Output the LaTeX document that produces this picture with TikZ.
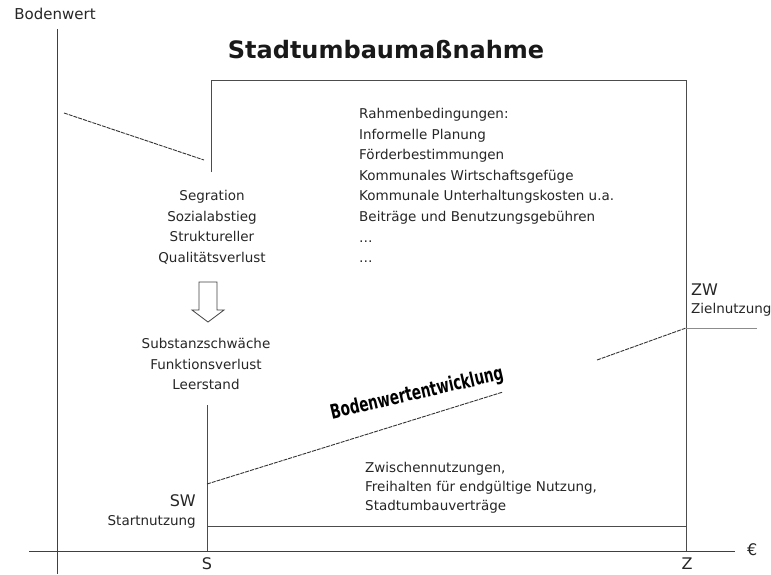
\documentclass[tikz,border=0pt]{standalone}
\usepackage{fontspec}
\setmainfont{DejaVu Sans}
\usetikzlibrary{calc}

\tikzset{
	axisline/.style={line width=0.9pt, black!75},
	frameline/.style={line width=0.8pt, black!70},
	valueline/.style={line width=0.9pt, black!80, dash pattern=on 4pt off 1pt},
	txt/.style={inner sep=0pt, text=black!85, font=\fontsize{13.5}{20.6}\selectfont},
	bigtxt/.style={inner sep=0pt, text=black!85, font=\fontsize{16}{16}\selectfont},
}

\begin{document}
\begin{tikzpicture}[x=1pt,y=-1pt]
		%%%%% START %%%%%
		\useasboundingbox (0,0) rectangle (771,574);
		
		\coordinate (ytop) at (57,29);
		\coordinate (ybot) at (57,574);
		\coordinate (xleft) at (29,551);
		\coordinate (xright) at (735,551);
		\coordinate (s) at (207,551);
		\coordinate (z) at (686,551);
		
		\draw[axisline] (ytop) -- (ybot);
		\draw[axisline] (xleft) -- (xright);
		\node[bigtxt, anchor=west] (euro) at (747,550) {€};
		\node[bigtxt, font=\fontsize{15}{15}\selectfont] (ylabel) at (55,14) {Bodenwert};
		\node[bigtxt] (slabel) at (207,564) {S};
		\node[bigtxt] (zlabel) at (687,564) {Z};
		
		% Rahmen der Massnahme
		\node[inner sep=0pt, text=black!90, font=\fontsize{24}{24}\bfseries] (title) at (386,50) {Stadtumbaumaßnahme};
		\coordinate (boxtl) at (211,80);
		\coordinate (boxleft) at (211,172);
		\coordinate (boxtr) at (686,80);
		\draw[frameline] (boxleft) -- (boxtl) -- (boxtr) -- (z);
		
		% Verlauf vor der Massnahme
		\coordinate (oldstart) at (64,113);
		\coordinate (oldend) at (204,160);
		\draw[valueline] (oldstart) -- (oldend);
		
		\node[txt, align=center, anchor=north] (causes) at (212,190) {Segration\\Sozialabstieg\\Struktureller\\Qualitätsverlust};
		\draw[line width=0.8pt, black!75, fill=white] (199,282) -- (217,282) -- (217,310) -- (224,310) -- (208,322) -- (192,310) -- (199,310) -- cycle;
		\node[txt, align=center, anchor=north] (effects) at (206,338) {Substanzschwäche\\Funktionsverlust\\Leerstand};
		
		\node[txt, align=left, anchor=north west] (frame) at (359,108) {Rahmenbedingungen:\\Informelle Planung\\Förderbestimmungen\\Kommunales Wirtschaftsgefüge\\Kommunale Unterhaltungskosten u.a.\\Beiträge und Benutzungsgebühren\\\dots\\\dots};
		
		% Startwert und Zielwert
		\coordinate (stop) at (207,405);
		\coordinate (sw) at (207,484);
		\coordinate (sbase) at (207,526);
		\coordinate (zbase) at (686,526);
		\draw[frameline] (stop) -- (s);
		\draw[frameline] (sbase) -- (zbase);
		\node[bigtxt, anchor=east] (swlabel) at (196,501) {SW};
		\node[txt, anchor=east] (swtext) at (196,522) {Startnutzung};
		
		\coordinate (devend) at (503,392);
		\coordinate (devrest) at (597,360);
		\coordinate (zw) at (686,328);
		\coordinate (zwend) at (757,328);
		\draw[valueline] (sw) -- (devend);
		\draw[valueline] (devrest) -- (zw);
		\draw[line width=0.6pt, black!45] (zw) -- (zwend);
		\node[bigtxt, anchor=west] (zwlabel) at (691,290) {ZW};
		\node[txt, anchor=west] (zwtext) at (691,310) {Zielnutzung};
		
		\node[inner sep=0pt, rotate=13, xscale=0.68, font=\fontsize{20}{20}\bfseries] (devlabel) at (417,394) {Bodenwertentwicklung};
		
		\node[txt, align=left, anchor=north west, font=\fontsize{13.5}{19}\selectfont] (interim) at (365,462) {Zwischennutzungen,\\Freihalten für endgültige Nutzung,\\Stadtumbauverträge};
		%%%%% END %%%%%
	\end{tikzpicture}
\end{document}
